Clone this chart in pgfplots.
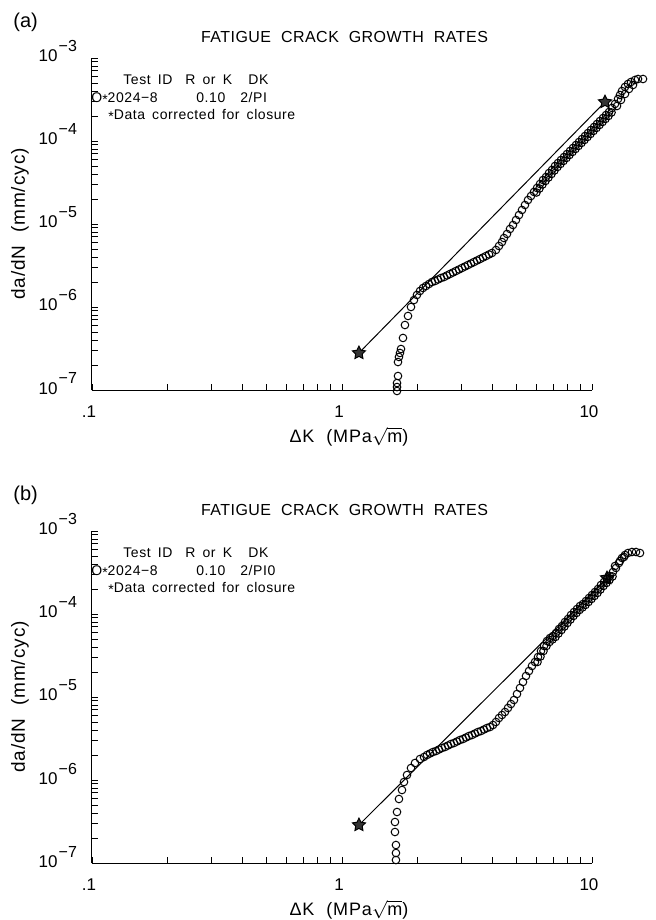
\documentclass[border=0pt]{standalone}
\usepackage{fontspec}
\setmainfont{Liberation Sans}
\usepackage{pgfplots}
\pgfplotsset{compat=1.18}
\newfontfamily\capfont[LetterSpace=3,WordSpace=2]{Liberation Sans}
\newfontfamily\legfont[LetterSpace=4,WordSpace=1.6]{Liberation Sans}
\newfontfamily\labfont[LetterSpace=5,WordSpace=2]{Liberation Sans}

\pgfdeclareplotmark{fivestar}{%
 \pgfpathmoveto{\pgfpointpolar{90}{\pgfplotmarksize}}%
 \pgfpathlineto{\pgfpointpolar{126}{0.5\pgfplotmarksize}}%
 \pgfpathlineto{\pgfpointpolar{162}{\pgfplotmarksize}}%
 \pgfpathlineto{\pgfpointpolar{198}{0.5\pgfplotmarksize}}%
 \pgfpathlineto{\pgfpointpolar{234}{\pgfplotmarksize}}%
 \pgfpathlineto{\pgfpointpolar{270}{0.5\pgfplotmarksize}}%
 \pgfpathlineto{\pgfpointpolar{306}{\pgfplotmarksize}}%
 \pgfpathlineto{\pgfpointpolar{342}{0.5\pgfplotmarksize}}%
 \pgfpathlineto{\pgfpointpolar{18}{\pgfplotmarksize}}%
 \pgfpathlineto{\pgfpointpolar{54}{0.5\pgfplotmarksize}}%
 \pgfpathclose
 \pgfusepathqfillstroke}

\newcommand{\tenexp}[1]{10\raisebox{5pt}{\fontsize{8}{8}\selectfont\kern0.6pt−#1}}
\tikzset{leg/.style={anchor=base west, inner sep=0pt, font=\legfont\fontsize{7}{8}\selectfont}}

\begin{document}
\begin{tikzpicture}
\path[use as bounding box] (0,0) rectangle (327.5pt,460pt);

% ---------------- panel (a)
\node[anchor=west, inner sep=0pt, font=\fontsize{10}{12}\selectfont] at (6.5pt,449pt) {(a)};
\begin{axis}[at={(46pt,265pt)}, anchor=south west,
  scale only axis, width=250pt, height=166pt,
  xmode=log, ymode=log, xmin=0.1, xmax=10, ymin=1e-7, ymax=1e-3,
  axis x line*=bottom, axis y line*=left,
  axis line style={line width=0.5pt, black},
  clip=false,
  tick align=inside, major tick length=3pt, minor tick length=3pt,
  tick style={line width=0.45pt, black},
  xtick={0.1,1,10}, xticklabels={.1,1,10},
  minor xtick={0.2,0.3,0.4,0.5,0.6,0.7,0.8,0.9,2,3,4,5,6,7,8,9},
  ytick={1e-7,1e-6,1e-5,1e-4,1e-3},
  yticklabels={\tenexp{7},\tenexp{6},\tenexp{5},\tenexp{4},\tenexp{3}},
  minor ytick={2e-7,3e-7,4e-7,5e-7,6e-7,7e-7,8e-7,9e-7,2e-6,3e-6,4e-6,5e-6,6e-6,7e-6,8e-6,9e-6,2e-5,3e-5,4e-5,5e-5,6e-5,7e-5,8e-5,9e-5,2e-4,3e-4,4e-4,5e-4,6e-4,7e-4,8e-4,9e-4},
  tick label style={font=\fontsize{8.5}{10}\selectfont},
  xticklabel style={anchor=base, yshift=-13.5pt, xshift=-1.5pt},
  yticklabel style={anchor=base east, xshift=-4pt, yshift=-2pt},
  xlabel={ΔK  (MPa$\sqrt{\hbox{m}}$)},
  ylabel={da/dN  (mm/cyc)},
  xlabel style={at={(axis description cs:0.514,-0.1416)}, anchor=center, font=\labfont\fontsize{9}{11}\selectfont},
  ylabel style={at={(axis description cs:-0.144,0.5)}, anchor=center, font=\labfont\fontsize{9.5}{11}\selectfont},
  title={FATIGUE  CRACK  GROWTH  RATES},
  title style={at={(axis description cs:0.505,1.0271)}, anchor=center, font=\capfont\fontsize{8}{10}\selectfont}]
\addplot[black, line width=0.5pt, mark=fivestar, mark size=3.4pt,
  mark options={fill=black!80, draw=black, line width=0.5pt}]
  coordinates {(1.169,2.793e-7) (11.27,2.951e-4)};
\addplot[only marks, mark=o, mark size=1.9pt, mark options={line width=0.5pt, black}] table {
x y
1.660 0.973e-7
1.660 1.086e-7
1.660 1.213e-7
1.675 1.475e-7
1.675 2.173e-7
1.690 2.500e-7
1.706 2.793e-7
1.722 3.119e-7
1.754 4.236e-7
1.786 6.068e-7
1.837 7.798e-7
1.888 1.000e-6
1.941 1.213e-6
1.995 1.396e-6
2.051 1.560e-6
2.109 1.694e-6
2.168 1.791e-6
2.228 1.892e-6
2.291 2.000e-6
2.355 2.056e-6
2.421 2.143e-6
2.489 2.234e-6
2.559 2.297e-6
2.630 2.399e-6
2.704 2.500e-6
2.780 2.606e-6
2.858 2.716e-6
2.938 2.831e-6
3.020 2.951e-6
3.105 3.076e-6
3.192 3.206e-6
3.281 3.342e-6
3.373 3.483e-6
3.467 3.631e-6
3.565 3.784e-6
3.664 3.945e-6
3.767 4.111e-6
3.873 4.295e-6
3.981 4.477e-6
4.130 4.864e-6
4.246 5.433e-6
4.365 6.067e-6
4.446 6.776e-6
4.571 7.586e-6
4.699 8.710e-6
4.831 9.727e-6
4.966 1.117e-5
5.105 1.282e-5
5.248 1.476e-5
5.395 1.694e-5
5.546 1.945e-5
5.702 2.173e-5
5.861 2.432e-5
5.998 2.396e-5
6.026 2.716e-5
6.166 2.677e-5
6.194 3.034e-5
6.339 2.991e-5
6.368 3.388e-5
6.516 3.297e-5
6.546 3.681e-5
6.699 3.633e-5
6.730 4.111e-5
6.887 4.003e-5
6.918 4.477e-5
7.079 4.411e-5
7.112 5.000e-5
7.278 4.861e-5
7.311 5.433e-5
7.482 5.284e-5
7.516 5.902e-5
7.691 5.741e-5
7.727 6.412e-5
7.907 6.240e-5
7.943 6.966e-5
8.128 6.781e-5
8.166 7.586e-5
8.356 7.371e-5
8.395 8.241e-5
8.590 8.008e-5
8.630 8.954e-5
8.831 8.707e-5
8.872 9.727e-5
9.078 9.461e-5
9.120 1.057e-4
9.333 1.028e-4
9.376 1.148e-4
9.594 1.117e-4
9.638 1.247e-4
9.863 1.214e-4
9.908 1.358e-4
10.14 1.320e-4
10.19 1.476e-4
10.42 1.434e-4
10.47 1.603e-4
10.72 1.559e-4
10.76 1.742e-4
11.02 1.694e-4
11.07 1.892e-4
11.32 1.841e-4
11.38 2.056e-4
11.64 2.001e-4
11.70 2.234e-4
11.97 2.205e-4
12.02 2.500e-4
12.36 2.793e-4
12.59 2.641e-4
12.71 3.206e-4
13.06 3.119e-4
12.94 3.581e-4
13.55 3.684e-4
13.18 4.000e-4
14.06 4.232e-4
13.55 4.477e-4
14.59 4.729e-4
13.93 4.864e-4
14.32 5.140e-4
14.86 5.433e-4
15.28 5.585e-4
16.00 5.585e-4
};
\end{axis}
\node[leg] at (61.5pt,417.75pt) {Test ID};
\node[leg] at (92.5pt,417.75pt) {R or K};
\node[leg] at (124pt,417.75pt) {DK};
\node[leg] at (45.5pt,408.75pt) {O\raisebox{-0.25ex}{*}2024−8};
\node[leg] at (98pt,408.75pt) {0.10};
\node[leg] at (120pt,408.75pt) {2/PI};
\node[leg] at (54pt,400.25pt) {\raisebox{-0.25ex}{*}Data corrected for closure};

% ---------------- panel (b)
\node[anchor=west, inner sep=0pt, font=\fontsize{10}{12}\selectfont] at (6.5pt,212.5pt) {(b)};
\begin{axis}[at={(46pt,28.5pt)}, anchor=south west,
  scale only axis, width=250pt, height=166pt,
  xmode=log, ymode=log, xmin=0.1, xmax=10, ymin=1e-7, ymax=1e-3,
  axis x line*=bottom, axis y line*=left,
  axis line style={line width=0.5pt, black},
  clip=false,
  tick align=inside, major tick length=3pt, minor tick length=3pt,
  tick style={line width=0.45pt, black},
  xtick={0.1,1,10}, xticklabels={.1,1,10},
  minor xtick={0.2,0.3,0.4,0.5,0.6,0.7,0.8,0.9,2,3,4,5,6,7,8,9},
  ytick={1e-7,1e-6,1e-5,1e-4,1e-3},
  yticklabels={\tenexp{7},\tenexp{6},\tenexp{5},\tenexp{4},\tenexp{3}},
  minor ytick={2e-7,3e-7,4e-7,5e-7,6e-7,7e-7,8e-7,9e-7,2e-6,3e-6,4e-6,5e-6,6e-6,7e-6,8e-6,9e-6,2e-5,3e-5,4e-5,5e-5,6e-5,7e-5,8e-5,9e-5,2e-4,3e-4,4e-4,5e-4,6e-4,7e-4,8e-4,9e-4},
  tick label style={font=\fontsize{8.5}{10}\selectfont},
  xticklabel style={anchor=base, yshift=-13.5pt, xshift=-1.5pt},
  yticklabel style={anchor=base east, xshift=-4pt, yshift=-2pt},
  xlabel={ΔK  (MPa$\sqrt{\hbox{m}}$)},
  ylabel={da/dN  (mm/cyc)},
  xlabel style={at={(axis description cs:0.514,-0.1416)}, anchor=center, font=\labfont\fontsize{9}{11}\selectfont},
  ylabel style={at={(axis description cs:-0.144,0.5)}, anchor=center, font=\labfont\fontsize{9.5}{11}\selectfont},
  title={FATIGUE  CRACK  GROWTH  RATES},
  title style={at={(axis description cs:0.505,1.0271)}, anchor=center, font=\capfont\fontsize{8}{10}\selectfont}]
\addplot[black, line width=0.5pt, mark=fivestar, mark size=3.4pt,
  mark options={fill=black!80, draw=black, line width=0.5pt}]
  coordinates {(1.169,2.870e-7) (11.48,2.715e-4)};
\addplot[only marks, mark=o, mark size=1.9pt, mark options={line width=0.5pt, black}] table {
x y
1.644 1.087e-7
1.644 1.320e-7
1.644 1.648e-7
1.629 2.363e-7
1.629 3.119e-7
1.660 4.117e-7
1.690 5.904e-7
1.738 7.577e-7
1.770 9.461e-7
1.820 1.149e-6
1.888 1.395e-6
1.959 1.602e-6
2.051 1.791e-6
2.128 1.892e-6
2.188 2.001e-6
2.249 2.086e-6
2.312 2.175e-6
2.377 2.236e-6
2.443 2.331e-6
2.512 2.430e-6
2.582 2.498e-6
2.655 2.604e-6
2.729 2.715e-6
2.805 2.791e-6
2.884 2.910e-6
2.965 3.033e-6
3.048 3.119e-6
3.133 3.251e-6
3.221 3.389e-6
3.311 3.485e-6
3.404 3.633e-6
3.499 3.787e-6
3.597 3.894e-6
3.698 4.059e-6
3.802 4.232e-6
3.908 4.351e-6
4.018 4.599e-6
4.130 4.999e-6
4.246 5.585e-6
4.365 6.069e-6
4.487 6.597e-6
4.613 7.370e-6
4.742 8.235e-6
4.875 9.203e-6
5.012 1.087e-5
5.152 1.284e-5
5.297 1.516e-5
5.445 1.791e-5
5.598 2.057e-5
5.754 2.363e-5
5.916 2.641e-5
6.053 2.641e-5
6.081 3.033e-5
6.223 3.076e-5
6.252 3.583e-5
6.397 3.583e-5
6.427 4.117e-5
6.577 4.117e-5
6.607 4.729e-5
6.761 4.599e-5
6.792 5.137e-5
6.950 4.930e-5
6.982 5.430e-5
7.145 5.284e-5
7.178 5.904e-5
7.345 5.823e-5
7.379 6.597e-5
7.551 6.415e-5
7.586 7.166e-5
7.762 7.069e-5
7.798 8.008e-5
7.980 7.791e-5
8.017 8.707e-5
8.204 8.584e-5
8.241 9.727e-5
8.433 9.461e-5
8.472 1.057e-4
8.670 1.028e-4
8.710 1.149e-4
8.913 1.117e-4
8.954 1.249e-4
9.162 1.198e-4
9.204 1.320e-4
9.419 1.284e-4
9.462 1.434e-4
9.683 1.395e-4
9.727 1.559e-4
9.954 1.516e-4
10.00 1.694e-4
10.23 1.648e-4
10.28 1.841e-4
10.52 1.791e-4
10.57 2.001e-4
10.81 1.973e-4
10.86 2.236e-4
11.12 2.175e-4
11.17 2.430e-4
11.43 2.363e-4
11.48 2.641e-4
11.75 2.569e-4
11.80 2.870e-4
12.08 2.831e-4
12.13 3.206e-4
12.36 3.787e-4
12.47 3.583e-4
12.94 4.351e-4
12.82 4.117e-4
13.43 4.861e-4
13.18 4.729e-4
13.55 5.137e-4
13.93 5.430e-4
14.45 5.585e-4
15.00 5.585e-4
15.56 5.430e-4
};
\end{axis}
\node[leg] at (61.5pt,181.25pt) {Test ID};
\node[leg] at (92.5pt,181.25pt) {R or K};
\node[leg] at (124pt,181.25pt) {DK};
\node[leg] at (45.5pt,172.25pt) {O\raisebox{-0.25ex}{*}2024−8};
\node[leg] at (98pt,172.25pt) {0.10};
\node[leg] at (120pt,172.25pt) {2/PI0};
\node[leg] at (54pt,163.75pt) {\raisebox{-0.25ex}{*}Data corrected for closure};
\end{tikzpicture}
\end{document}
